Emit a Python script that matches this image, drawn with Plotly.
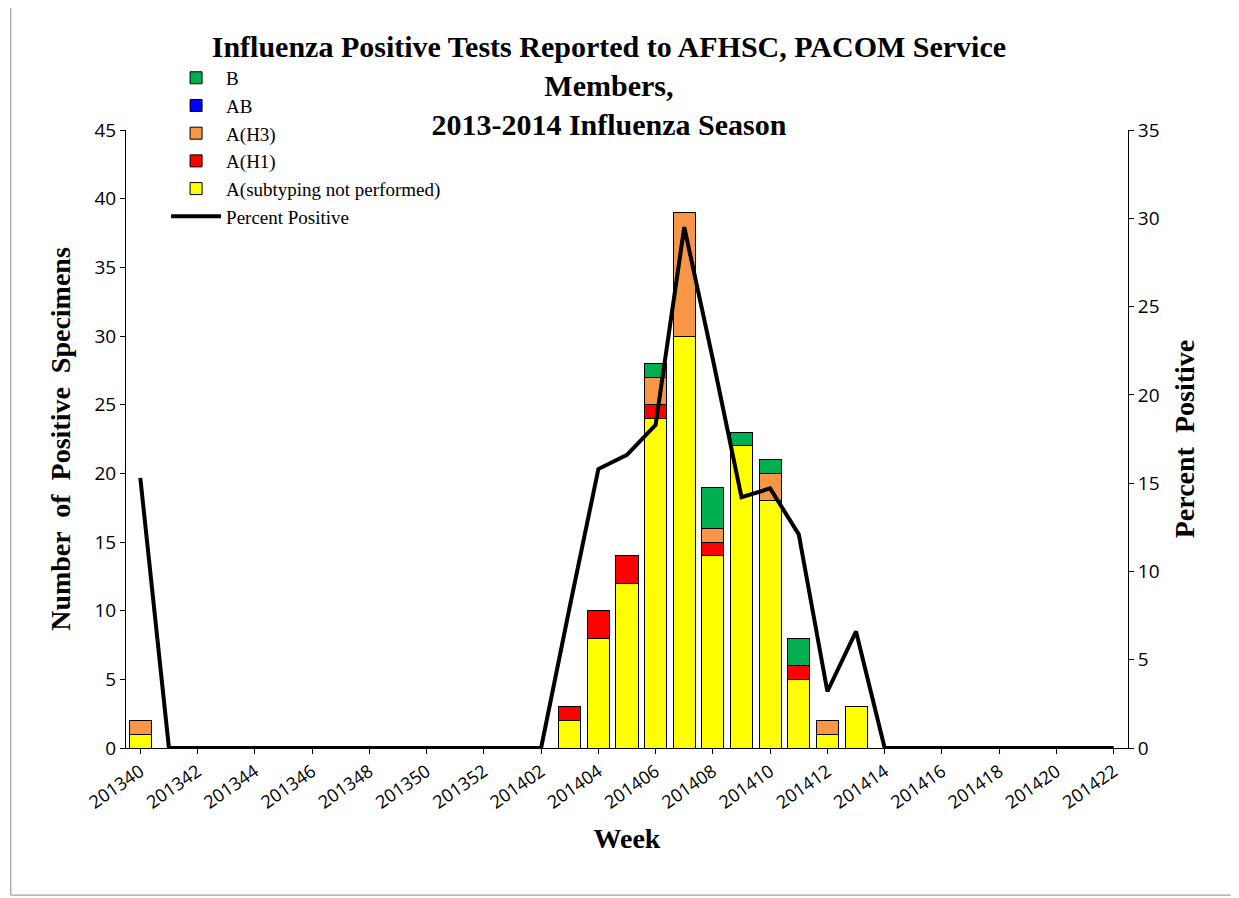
import plotly.graph_objects as go

weeks = [str(201340 + i) for i in range(13)] + [str(201401 + i) for i in range(22)]
tick_weeks = weeks[::2]

a_nosub = [1] + [0] * 14 + [2, 8, 12, 24, 30, 14, 22, 18, 5, 1, 3] + [0] * 9
a_h1 = [0] * 15 + [1, 2, 2, 1, 0, 1, 0, 0, 1, 0, 0] + [0] * 9
a_h3 = [1] + [0] * 14 + [0, 0, 0, 2, 9, 1, 0, 2, 0, 1, 0] + [0] * 9
ab = [0] * 35
b = [0] * 15 + [0, 0, 0, 1, 0, 3, 1, 1, 2, 0, 0] + [0] * 9
pct_pos = [15.3] + [0] * 14 + [8.0, 15.8, 16.6, 18.3, 29.5, 22.0, 14.2, 14.7, 12.1, 3.2, 6.6] + [0] * 9

fig = go.Figure()
series = [("A(subtyping not performed)", a_nosub, "#FFFF00", 5),
          ("A(H1)", a_h1, "#FF0000", 4),
          ("A(H3)", a_h3, "#F79646", 3),
          ("AB", ab, "#0000FF", 2),
          ("B", b, "#00B050", 1)]
for name, vals, color, rank in series:
    fig.add_trace(go.Bar(x=weeks, y=vals, name=name, marker=dict(color=color, line=dict(color="black", width=1)),
                         legendrank=rank))
fig.add_trace(go.Scatter(x=weeks, y=pct_pos, name="Percent Positive", mode="lines", yaxis="y2",
                         line=dict(color="black", width=4), legendrank=6))

serif = "Liberation Serif"
fig.update_layout(
    width=1239, height=898, barmode="stack", bargap=0.23,
    paper_bgcolor="white", plot_bgcolor="white",
    margin=dict(l=118, r=119, t=122, b=158),
    title=dict(text="<b>Influenza Positive Tests Reported to AFHSC, PACOM Service<br>Members,<br>2013-2014 Influenza Season</b>",
               x=0.485, xanchor="center", y=0.945, yanchor="top", font=dict(family=serif, size=30, color="black")),
    legend=dict(x=0.04, y=1.115, xanchor="left", yanchor="top", bgcolor="rgba(0,0,0,0)", traceorder="normal",
                font=dict(family=serif, size=19, color="black"), tracegroupgap=0, itemwidth=50),
    xaxis=dict(type="category", tickvals=tick_weeks, ticktext=tick_weeks, tickangle=-35,
               showline=True, linecolor="black", ticks="outside", tickcolor="black",
               tickfont=dict(family="Open Sans", size=18, color="black"),
               title=dict(text="<b>Week</b>", font=dict(family=serif, size=28, color="black"))),
    yaxis=dict(range=[0, 45], dtick=5, showline=True, linecolor="black", ticks="outside", tickcolor="black",
               showgrid=False, zeroline=False, tickfont=dict(family="Open Sans", size=19, color="black"),
               title=dict(text="<b>Number  of  Positive  Specimens</b>", font=dict(family=serif, size=28, color="black"))),
    yaxis2=dict(range=[0, 35], dtick=5, overlaying="y", side="right", showline=True, linecolor="black",
                ticks="outside", tickcolor="black", showgrid=False, zeroline=False,
                tickfont=dict(family="Open Sans", size=19, color="black"),
                title=dict(text="<b>Percent  Positive</b>", font=dict(family=serif, size=28, color="black"))),
    shapes=[dict(type="rect", xref="paper", yref="paper", x0=-0.115, x1=1.11, y0=-0.238, y1=1.3,
                 line=dict(color="#888888", width=1))],
)
fig.write_html("out.html")
